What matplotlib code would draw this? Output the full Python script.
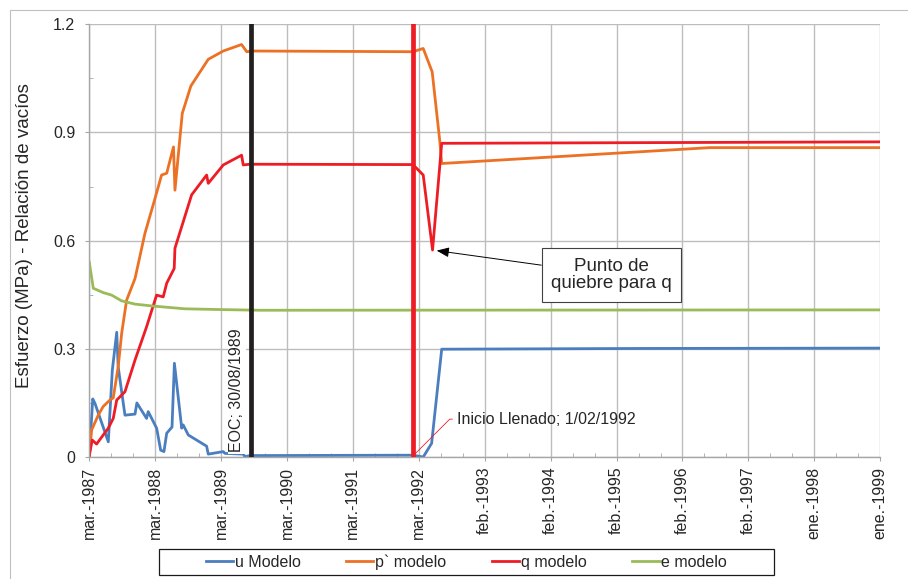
import numpy as np
import matplotlib.pyplot as plt
from matplotlib.patches import Rectangle

plt.rcParams['font.family'] = ['Liberation Sans', 'DejaVu Sans']

# Fechas de referencia; el eje x va en dias contados desde el origen
origen = np.datetime64('1987-03-29')
fecha_eoc = np.datetime64('1989-08-30')
fecha_llenado = np.datetime64('1992-02-01')

etiquetas_x = ['mar.-1987', 'mar.-1988', 'mar.-1989', 'mar.-1990', 'mar.-1991',
               'mar.-1992', 'feb.-1993', 'feb.-1994', 'feb.-1995', 'feb.-1996',
               'feb.-1997', 'ene.-1998', 'ene.-1999']
etiquetas_y = ['0', '0.3', '0.6', '0.9', '1.2']

# u Modelo (presion de poros)
u_dias = [0, 19, 31, 104, 126, 150, 158, 195, 250, 260, 313, 322, 368, 390, 408,
          423, 452, 465, 505, 513, 541, 641, 650, 732, 741, 841, 850, 878, 1768,
          1824, 1870, 1925, 3000, 4320]
u_val = [0.0, 0.161, 0.149, 0.042, 0.241, 0.346, 0.25, 0.116, 0.119, 0.150, 0.107,
         0.126, 0.080, 0.019, 0.015, 0.066, 0.083, 0.26, 0.08, 0.089, 0.061, 0.030,
         0.008, 0.015, 0.010, 0.008, 0.001, 0.004, 0.005, 0.0, 0.038, 0.299, 0.301,
         0.302]

# p` modelo
p_dias = [0, 13, 49, 76, 113, 131, 158, 177, 204, 250, 304, 359, 395, 423, 460,
          468, 508, 555, 650, 732, 832, 860, 887, 1768, 1824, 1873, 1915, 1925,
          3390, 4320]
p_val = [0.003, 0.075, 0.116, 0.14, 0.158, 0.164, 0.25, 0.343, 0.435, 0.495, 0.62,
         0.717, 0.782, 0.787, 0.86, 0.74, 0.953, 1.029, 1.103, 1.126, 1.144, 1.124,
         1.126, 1.124, 1.133, 1.068, 0.874, 0.814, 0.858, 0.858]

# q modelo
q_dias = [0, 16, 40, 104, 131, 150, 195, 250, 313, 359, 368, 404, 423, 464, 468,
          505, 559, 641, 650, 732, 832, 841, 878, 1768, 1824, 1875, 1925, 4320]
q_val = [0.003, 0.047, 0.036, 0.08, 0.107, 0.158, 0.181, 0.269, 0.361, 0.435, 0.449,
         0.444, 0.482, 0.523, 0.579, 0.639, 0.727, 0.782, 0.759, 0.81, 0.837, 0.81,
         0.812, 0.811, 0.782, 0.574, 0.870, 0.874]

# e modelo (relacion de vacios)
e_dias = [0, 22, 76, 122, 177, 250, 341, 431, 523, 705, 932, 4320]
e_val = [0.541, 0.468, 0.456, 0.449, 0.433, 0.424, 0.419, 0.415, 0.411, 0.409,
         0.407, 0.408]

dia_eoc = (fecha_eoc - origen).astype(int)
dia_llenado = (fecha_llenado - origen).astype(int)

azul, naranja, rojo, verde = '#4a7ebf', '#ec7124', '#ee1c25', '#9bbb59'
gris = '#a6a6a6'
texto = '#262626'

fig = plt.figure(figsize=(9.08, 5.79), dpi=100)
ax = fig.add_axes([0.0983, 0.2107, 0.8711, 0.7473])

ax.plot(u_dias, u_val, color=azul, lw=2, label='u Modelo')
ax.plot(p_dias, p_val, color=naranja, lw=2, label='p` modelo')
ax.plot(q_dias, q_val, color=rojo, lw=2, label='q modelo')
ax.plot(e_dias, e_val, color=verde, lw=2, label='e modelo')

# fin de construccion e inicio de llenado
ax.axvline(dia_eoc, color='#231f20', lw=3.4, zorder=4)
ax.axvline(dia_llenado, color=rojo, lw=3.4, zorder=4)

ax.annotate('EOC; 30/08/1989', xy=(dia_eoc, 0), xytext=(-10.5, 3.6),
            textcoords='offset points', rotation=90, ha='center', va='bottom',
            fontsize=11.5, color=texto,
            bbox=dict(boxstyle='square,pad=0.1', fc='white', ec='none'))

ax.annotate('Inicio Llenado; 1/02/1992', xy=(dia_llenado, 0.004),
            xytext=(dia_llenado + 236, 0.105), ha='left', va='center',
            fontsize=11.5, color=texto,
            arrowprops=dict(arrowstyle='-', color=rojo, lw=0.6, shrinkA=1, shrinkB=0,
                            connectionstyle='angle,angleA=180,angleB=45,rad=0'))

i_min = int(np.argmin(q_val[-4:])) + len(q_val) - 4
ax.annotate('Punto de\nquiebre para q', xy=(q_dias[i_min], q_val[i_min]),
            xytext=(2852, 0.505), ha='center', va='center', fontsize=13.5,
            color=texto, linespacing=1.05,
            bbox=dict(boxstyle='square,pad=0.5', fc='white', ec='#404040', lw=0.8),
            arrowprops=dict(arrowstyle='-|>,head_length=0.55,head_width=0.22',
                            color='black', lw=0.7, shrinkA=0, shrinkB=3))

ax.set_xlim(0, 4320)
ax.set_ylim(0, 1.2)
ax.set_xticks(np.arange(13) * 360)
ax.set_xticklabels(etiquetas_x, rotation=90)
ax.set_xticks(np.arange(0, 4321, 120), minor=True)
ax.set_yticks(np.arange(5) * 0.3)
ax.set_yticklabels(etiquetas_y)
ax.set_yticks(np.arange(9) * 0.15, minor=True)

ax.tick_params(axis='both', which='major', direction='out', length=3, color=gris,
               labelsize=11.5, labelcolor=texto)
ax.tick_params(axis='x', which='major', pad=4)
ax.tick_params(axis='y', which='major', pad=7)
ax.tick_params(axis='both', which='minor', direction='in', length=3, color=gris)

ax.grid(True, which='major', color='#bdbdbd', lw=1)
ax.set_axisbelow(True)
for lado in ['top', 'right']:
    ax.spines[lado].set_visible(False)
for lado in ['left', 'bottom']:
    ax.spines[lado].set_color(gris)
    ax.spines[lado].set_linewidth(1)

ax.set_ylabel('Esfuerzo (MPa) - Relación de vacíos', fontsize=13.5, color=texto)
ax.yaxis.set_label_coords(-0.0712, 0.512)

# leyenda sin marco propio, con recuadro dibujado aparte
fig.legend(loc='center', bbox_to_anchor=(0.5138, 0.0294), ncol=4, frameon=False,
           fontsize=11.5, handlelength=1.7, handletextpad=0.12, columnspacing=2.85,
           labelcolor=texto)
fig.add_artist(Rectangle((159 / 908, 4 / 579), 615 / 908, 26 / 579,
                         transform=fig.transFigure, fill=False, ec='#1a1a1a', lw=0.9))

# borde del area del grafico
fig.add_artist(Rectangle((9.5 / 908, -0.05), 1.1, 1.05 - 9.5 / 579,
                         transform=fig.transFigure, fill=False, ec='#c0c0c0', lw=0.8,
                         clip_on=False))

fig.savefig('out.png', dpi=100)
